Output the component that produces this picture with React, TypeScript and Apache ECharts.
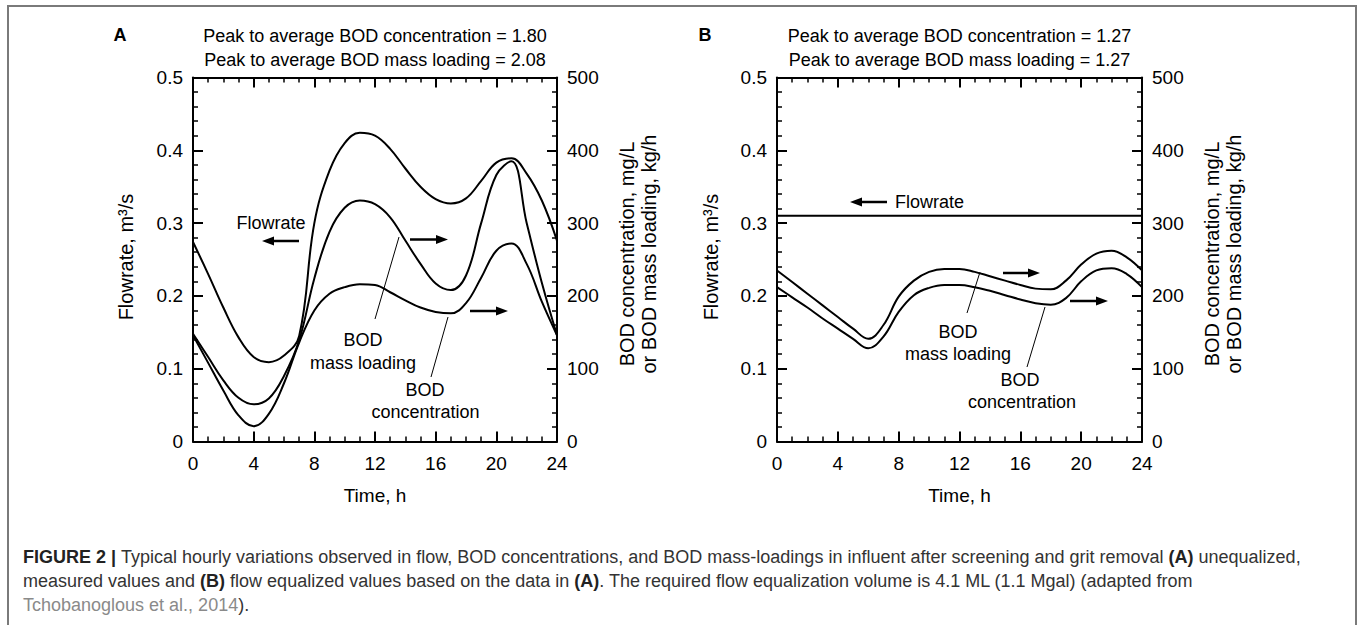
import React, { useEffect, useRef } from "react";
import * as echarts from "echarts";

// ---------- data ----------
const HOURS = [0, 1, 2, 3, 4, 5, 6, 7, 8, 9, 10, 11, 12, 13, 14, 15, 16, 17, 18, 19, 20, 21, 22, 23, 24];

// Panel A (unequalized)
const FLOW_A = [0.274, 0.23, 0.184, 0.143, 0.116, 0.109, 0.118, 0.145, 0.3, 0.372, 0.41, 0.424, 0.42, 0.402, 0.375, 0.35, 0.333, 0.327, 0.334, 0.358, 0.383, 0.389, 0.368, 0.331, 0.276];
const MASS_A = [148, 116, 84, 60, 51, 59, 90, 139, 224, 288, 321, 331, 326, 308, 276, 244, 217, 208, 228, 300, 366, 385, 300, 218, 146];
const CONC_A = [146, 108, 70, 36, 21, 38, 80, 136, 180, 203, 212, 216, 215, 205, 194, 184, 178, 176, 190, 225, 262, 272, 244, 192, 146];

// Panel B (flow equalized)
const FLOW_B = [0.31, 0.31, 0.31, 0.31, 0.31, 0.31, 0.31, 0.31, 0.31, 0.31, 0.31, 0.31, 0.31, 0.31, 0.31, 0.31, 0.31, 0.31, 0.31, 0.31, 0.31, 0.31, 0.31, 0.31, 0.31];
const MASS_B = [235, 219, 203, 187, 171, 155, 141, 160, 199, 221, 233, 237, 237, 233, 227, 221, 215, 210, 209, 221, 243, 258, 262, 253, 235];
const CONC_B = [212, 198, 184, 169, 155, 141, 128, 144, 178, 201, 211, 215, 215, 212, 207, 201, 195, 190, 188, 197, 220, 235, 238, 230, 212];

// axis ranges / ticks
const X_MIN = 0, X_MAX = 24, X_STEP = 4;
const FLOW_MIN = 0, FLOW_MAX = 0.5, FLOW_STEP = 0.1;
const BOD_MIN = 0, BOD_MAX = 500, BOD_STEP = 100;

// texts
const TITLES_A = ["Peak to average BOD concentration = 1.80", "Peak to average BOD mass loading = 2.08"];
const TITLES_B = ["Peak to average BOD concentration = 1.27", "Peak to average BOD mass loading = 1.27"];
const X_NAME = "Time, h";
const Y_LEFT_NAME = "Flowrate, m³/s";
const Y_RIGHT_NAME = "BOD concentration, mg/L\nor BOD mass loading, kg/h";

const FONT = "'Liberation Sans', Arial, Helvetica, sans-serif";

const pairs = (vals: number[]) => HOURS.map((h, i) => [h, vals[i]]);

function xAx(gridIndex: number, position: string, showLabel: boolean) {
  return {
    type: "value",
    gridIndex,
    position,
    min: X_MIN,
    max: X_MAX,
    interval: X_STEP,
    axisLine: { show: true, onZero: false, lineStyle: { color: "#000", width: 2 } },
    axisTick: { show: true, inside: true, length: 10, lineStyle: { color: "#000", width: 2 } },
    minorTick: { show: true, splitNumber: 4, length: 5, lineStyle: { color: "#000", width: 1.5 } },
    axisLabel: { show: showLabel, color: "#000", fontSize: 19, margin: 12, fontFamily: FONT },
    splitLine: { show: false },
    minorSplitLine: { show: false },
  };
}

function yAx(gridIndex: number, position: string, min: number, max: number, interval: number) {
  return {
    type: "value",
    gridIndex,
    position,
    min,
    max,
    interval,
    axisLine: { show: true, onZero: false, lineStyle: { color: "#000", width: 2 } },
    axisTick: { show: true, inside: true, length: 10, lineStyle: { color: "#000", width: 2 } },
    minorTick: { show: true, splitNumber: 5, length: 5, lineStyle: { color: "#000", width: 1.5 } },
    axisLabel: { show: true, color: "#000", fontSize: 19, margin: 10, fontFamily: FONT },
    splitLine: { show: false },
    minorSplitLine: { show: false },
  };
}

function line(xi: number, yi: number, vals: number[]) {
  return {
    type: "line",
    xAxisIndex: xi,
    yAxisIndex: yi,
    data: pairs(vals),
    smooth: 0.4,
    showSymbol: false,
    silent: true,
    lineStyle: { color: "#000", width: 2 },
  };
}

function txt(x: number, y: number, text: string, opts: any = {}) {
  return {
    type: "text",
    x,
    y,
    rotation: opts.rotation || 0,
    silent: true,
    style: {
      text,
      fill: opts.fill || "#000",
      font: `${opts.weight || "normal"} ${opts.size || 18}px ${FONT}`,
      align: opts.align || "center",
      verticalAlign: "middle",
      lineHeight: opts.lineHeight,
    },
  };
}

function arrow(tail: number, tip: number, y: number) {
  const d = tip > tail ? -1 : 1;
  return [
    { type: "line", silent: true, shape: { x1: tail, y1: y, x2: tip + d * 8, y2: y }, style: { stroke: "#000", lineWidth: 2.5 } },
    {
      type: "polygon",
      silent: true,
      shape: { points: [[tip, y], [tip + d * 12, y - 4.5], [tip + d * 12, y + 4.5]] },
      style: { fill: "#000" },
    },
  ];
}

function leader(x1: number, y1: number, x2: number, y2: number) {
  return { type: "line", silent: true, shape: { x1, y1, x2, y2 }, style: { stroke: "#000", lineWidth: 1 } };
}

function caption(y: number, text: string) {
  return {
    type: "text",
    silent: true,
    x: 23,
    y,
    style: {
      text,
      verticalAlign: "middle",
      align: "left",
      rich: {
        b: { fontFamily: FONT, fontSize: 18, fontWeight: "bold", fill: "#222" },
        n: { fontFamily: FONT, fontSize: 18, fill: "#333" },
        g: { fontFamily: FONT, fontSize: 18, fill: "#8a8a8a" },
      },
      font: `18px ${FONT}`,
      fill: "#333",
    },
  };
}

export default function App() {
  const ref = useRef<HTMLDivElement>(null);

  useEffect(() => {
    if (!ref.current) return;
    const chart = echarts.init(ref.current, null, { renderer: "svg" });

    const gA = { left: 193, top: 77.5, width: 364, height: 364 };
    const gB = { left: 777, top: 77.5, width: 365, height: 364 };
    const cA = gA.left + gA.width / 2;
    const cB = gB.left + gB.width / 2;

    const elements: any[] = [
      // figure frame
      { type: "rect", silent: true, shape: { x: 8, y: 6, width: 1348, height: 660 }, style: { fill: "none", stroke: "#7a7a7a", lineWidth: 2 } },
      // panel letters
      txt(120, 35, "A", { weight: "bold" }),
      txt(705, 35, "B", { weight: "bold" }),
      // titles
      txt(cA, 36, TITLES_A[0]),
      txt(cA, 60, TITLES_A[1]),
      txt(cB, 36, TITLES_B[0]),
      txt(cB, 60, TITLES_B[1]),
      // axis names
      txt(cA, 495, X_NAME, { size: 19 }),
      txt(cB, 495, X_NAME, { size: 19 }),
      txt(126, 257, Y_LEFT_NAME, { rotation: Math.PI / 2, size: 20 }),
      txt(711, 257, Y_LEFT_NAME, { rotation: Math.PI / 2, size: 20 }),
      txt(637.5, 254, Y_RIGHT_NAME, { rotation: Math.PI / 2, lineHeight: 22, size: 20 }),
      txt(1222.5, 254, Y_RIGHT_NAME, { rotation: Math.PI / 2, lineHeight: 22, size: 20 }),
      // panel A annotations
      txt(271, 223, "Flowrate"),
      ...arrow(299, 262, 241),
      ...arrow(410, 448, 239.5),
      ...arrow(470, 508, 311),
      txt(363, 340, "BOD"),
      txt(363, 362.5, "mass loading"),
      leader(375, 319, 399, 237),
      txt(425, 390, "BOD"),
      txt(425.5, 412, "concentration"),
      leader(431, 377, 448, 317),
      // panel B annotations
      ...arrow(887, 850, 202),
      txt(895, 202, "Flowrate", { align: "left" }),
      ...arrow(1003, 1040, 273),
      ...arrow(1070, 1108, 301),
      txt(958, 332, "BOD"),
      txt(958, 353.5, "mass loading"),
      leader(967, 313, 980, 272),
      txt(1020, 380, "BOD"),
      txt(1022, 402, "concentration"),
      leader(1027, 367, 1045, 307),
      // caption
      caption(557, "{b|FIGURE 2 |} {n|Typical hourly variations observed in flow, BOD concentrations, and BOD mass-loadings in influent after screening and grit removal} {b|(A)} {n|unequalized,}"),
      caption(581, "{n|measured values and} {b|(B)} {n|flow equalized values based on the data in} {b|(A)}{n|. The required flow equalization volume is 4.1 ML (1.1 Mgal) (adapted from}"),
      caption(605, "{g|Tchobanoglous et al., 2014}{n|).}"),
    ];

    chart.setOption({
      animation: false,
      backgroundColor: "#fff",
      textStyle: { fontFamily: FONT },
      grid: [gA, gB],
      xAxis: [xAx(0, "bottom", true), xAx(0, "top", false), xAx(1, "bottom", true), xAx(1, "top", false)],
      yAxis: [
        yAx(0, "left", FLOW_MIN, FLOW_MAX, FLOW_STEP),
        yAx(0, "right", BOD_MIN, BOD_MAX, BOD_STEP),
        yAx(1, "left", FLOW_MIN, FLOW_MAX, FLOW_STEP),
        yAx(1, "right", BOD_MIN, BOD_MAX, BOD_STEP),
      ],
      series: [
        line(0, 0, FLOW_A),
        line(0, 1, MASS_A),
        line(0, 1, CONC_A),
        line(2, 2, FLOW_B),
        line(2, 3, MASS_B),
        line(2, 3, CONC_B),
      ],
      graphic: { elements },
    });

    return () => chart.dispose();
  }, []);

  return (
    <div
      ref={ref}
      style={{ position: "absolute", left: 0, top: 0, width: 1358, height: 625, background: "#fff" }}
    />
  );
}
